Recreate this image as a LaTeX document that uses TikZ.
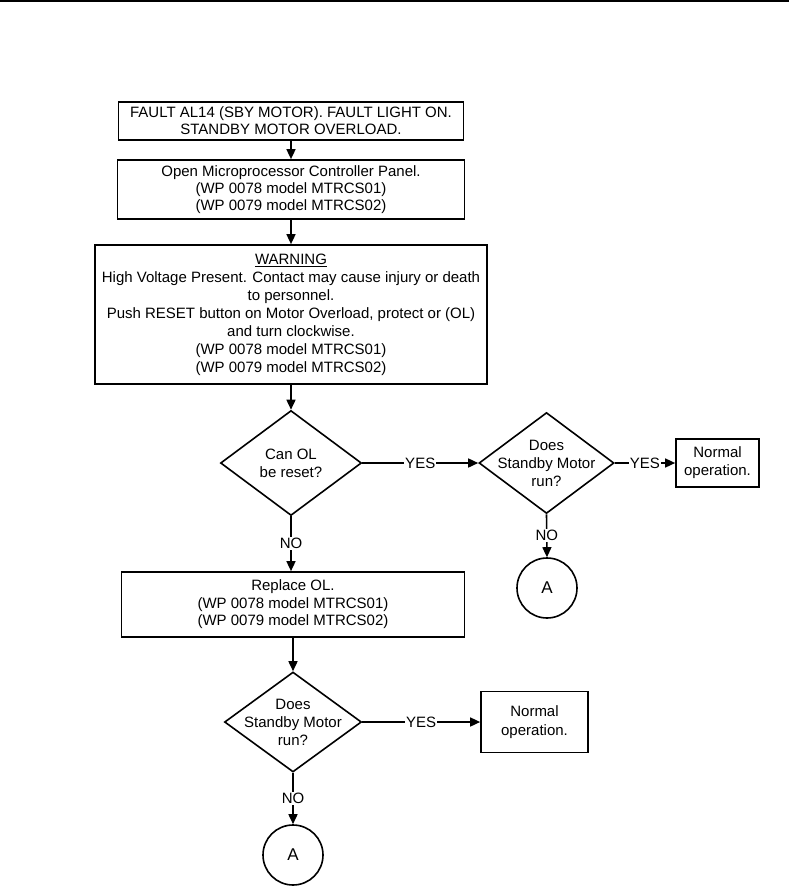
\documentclass[tikz,border=0pt]{standalone}
\usepackage{fontspec}
\setmainfont{Liberation Sans}
\usetikzlibrary{shapes.geometric,arrows.meta}
\begin{document}
\begin{tikzpicture}[x=1pt,y=-1pt,
 every node/.style={font=\fontsize{15}{17}\selectfont},
 box/.style={draw,line width=1.7pt,align=center,inner sep=0pt},
 dia/.style={draw,diamond,line width=1.6pt,inner sep=0pt},
 txt/.style={align=center,font=\fontsize{15}{18}\selectfont,inner sep=0pt},
 circ/.style={draw,circle,line width=1.6pt,minimum size=60pt,inner sep=0pt,font=\fontsize{17}{20}\selectfont},
 conn/.style={line width=1.6pt,-{Triangle[length=10pt,width=9pt]}},
 lbl/.style={fill=white,inner sep=1pt}
]
\useasboundingbox (0,0) rectangle (789,888);
\fill (0,0) rectangle (789,2.5);

\node[box,minimum width=345pt,minimum height=38pt] (b1) at (291,121)
  {FAULT AL14 (SBY MOTOR). FAULT LIGHT ON.\\STANDBY MOTOR OVERLOAD.};
\node[box,minimum width=347pt,minimum height=59pt] (b2) at (291,189.5)
  {Open Microprocessor Controller Panel.\\(WP 0078 model MTRCS01)\\(WP 0079 model MTRCS02)};
\node[box,minimum width=392pt,minimum height=139pt,font=\fontsize{15}{18}\selectfont] (b3) at (291,314.5)
  {\underline{WARNING}\\High Voltage Present. Contact may cause injury or death\\to personnel.\\Push RESET button on Motor Overload, protect or (OL)\\and turn clockwise.\\(WP 0078 model MTRCS01)\\(WP 0079 model MTRCS02)};

\node[dia,minimum width=141pt,minimum height=105pt] (d1) at (291,463) {};
\node[txt] (d1t) at (d1) {Can OL\\be reset?};

\node[dia,minimum width=135pt,minimum height=101pt] (d2) at (546.5,463) {};
\node[txt] (d2t) at (d2) {Does\\Standby Motor\\run?};

\node[box,minimum width=83pt,minimum height=48pt,font=\fontsize{15}{18}\selectfont] (n1) at (717.5,463) {Normal\\operation.};

\node[circ] (a1) at (547,588) {A};

\node[box,minimum width=343pt,minimum height=65pt,font=\fontsize{15}{17.5}\selectfont] (b4) at (293,604.5)
  {Replace OL.\\(WP 0078 model MTRCS01)\\(WP 0079 model MTRCS02)};

\node[dia,minimum width=137pt,minimum height=100pt] (d3) at (293,722) {};
\node[txt] (d3t) at (d3) {Does\\Standby Motor\\run?};

\node[box,minimum width=107pt,minimum height=61pt,font=\fontsize{15}{19}\selectfont] (n2) at (534.5,722) {Normal\\operation.};

\node[circ] (a2) at (293,855) {A};

\draw[conn] (b1) -- (b2);
\draw[conn] (b2) -- (b3);
\draw[conn] (b3) -- (d1);
\draw[conn] (d1.east) -- node[lbl] (y1) {YES} (d2.west);
\draw[conn] (d2.east) -- node[lbl] (y2) {YES} (n1.west |- d2.east);
\draw[conn] (d2.south) -- node[lbl] (o2) {NO} (a1.north);
\draw[conn] (d1.south) -- node[lbl] (o1) {NO} (d1.south |- b4.north);
\draw[conn] (d3.north |- b4.south) -- (d3.north);
\draw[conn] (d3.east) -- node[lbl] (y3) {YES} (n2.west |- d3.east);
\draw[conn] (d3.south) -- node[lbl] (o3) {NO} (a2.north);
\end{tikzpicture}
\end{document}
